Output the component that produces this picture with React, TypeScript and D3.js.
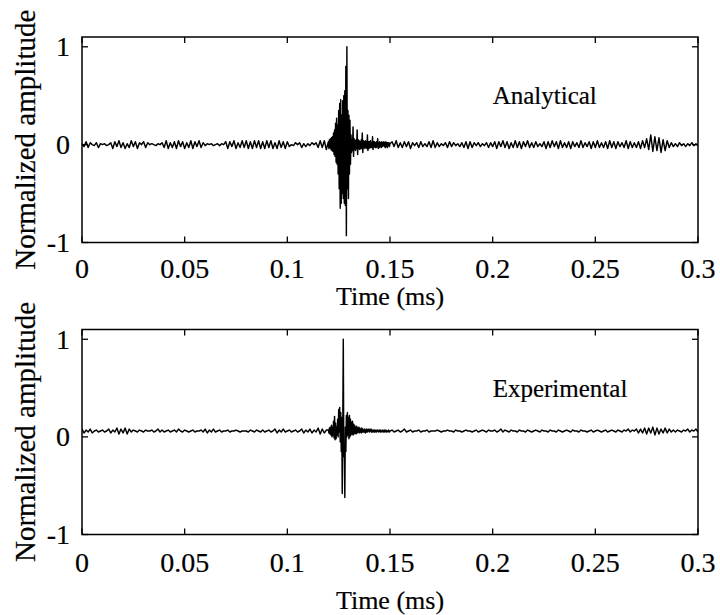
import React from "react";
import * as d3 from "d3";

// ---- Data ----
const xTickValues = [0, 0.05, 0.1, 0.15, 0.2, 0.25, 0.3];
const xTickLabels = ["0", "0.05", "0.1", "0.15", "0.2", "0.25", "0.3"];
const yTickValues = [-1, 0, 1];
const yTickLabels = ["-1", "0", "1"];

const noiseStep = 0.001; // ms
const burstStep = 0.00025; // ms
const preStart = 0;
const burstStart = 0.12;
const postStart = 0.151;

// Analytical signal
const analyticalPre = [
  .01,-.02,.03,-.03,.02,.00,-.01,.02,-.03,.01,
  .00,.01,-.01,.00,.02,-.04,.03,-.02,.04,-.03,
  .02,-.04,.01,-.03,.04,-.02,.03,-.04,.02,.00,
  .03,-.03,.02,.00,.01,.00,-.01,.01,.00,.02,
  -.03,.04,-.04,.02,-.03,.03,-.04,.04,-.02,.03,
  -.04,.02,-.03,.04,-.04,.03,-.02,.04,-.03,.02,
  -.01,.01,.00,.01,-.01,.00,.01,-.01,.01,.00,
  .03,-.04,.03,-.02,.04,-.04,.02,-.03,.04,-.03,
  .04,-.04,.03,-.04,.04,-.03,.04,-.04,.03,-.04,
  .04,-.03,.04,-.04,.02,-.04,.04,-.03,.03,-.04,
  .03,-.02,.00,-.01,.02,.00,.02,-.03,.01,-.02,
  .01,-.01,.02,.00,.02,-.03,.04,-.03,.04,-.05,
];
const analyticalBurst = [
  .03,-.04,.05,-.03,.06,-.05,.07,-.06,.08,-.07,
  .12,-.1,.15,-.12,.22,-.18,.27,-.2,.2,-.3,
  .35,-.45,.42,-.65,.46,-.6,.3,-.5,.45,-.55,
  .5,-.6,.55,-.62,.8,-.93,1.0,-.45,.35,-.55,
  .3,-.3,.25,-.2,.1,-.08,.05,-.06,.18,-.12,
  .06,-.05,.04,-.06,.05,-.04,.15,-.1,.05,-.04,
  .04,-.05,.03,-.04,.05,-.04,.12,-.08,.04,-.03,
  .03,-.04,.04,-.03,.03,-.04,.1,-.06,.03,-.04,
  .03,-.03,.04,-.03,.02,-.03,.08,-.05,.03,-.02,
  .03,-.03,.02,-.03,.03,-.02,.06,-.04,.02,-.03,
  .03,-.02,.02,-.03,.03,-.02,.02,-.01,.03,-.02,
  .02,-.03,.03,-.02,.02,-.03,.02,-.01,.02,-.02,.01,
];
const analyticalPost = [
  .03,-.02,.04,-.03,.02,-.03,.03,-.02,.03,-.04,
  .02,-.01,.02,-.03,.03,-.02,.01,-.02,.03,-.03,
  .04,-.03,.02,-.02,.01,-.01,.02,-.03,.03,-.02,
  .02,-.01,.01,-.02,.02,-.03,.03,-.04,.03,-.03,
  .02,-.01,.02,-.02,.01,-.01,.02,-.03,.02,-.02,
  .03,-.04,.03,-.02,.04,-.03,.03,-.04,.02,-.03,
  .04,-.03,.03,-.04,.03,-.02,.04,-.03,.02,-.03,
  .03,-.02,.01,-.02,.03,-.04,.03,-.03,.04,-.02,
  .03,-.04,.04,-.03,.02,-.03,.03,-.04,.03,-.02,
  .02,-.03,.04,-.03,.02,-.02,.03,-.04,.03,-.03,
  .04,-.03,.02,-.03,.03,-.04,.04,-.03,.03,-.04,
  .03,-.02,.02,-.03,.04,-.04,.03,-.03,.02,-.03,
  .03,-.04,.04,-.03,.06,-.05,.1,-.07,.08,-.06,
  .07,-.08,.05,-.06,.04,-.03,.02,-.02,.01,-.02,
  .02,-.01,.01,-.02,.01,-.01,.02,-.01,.01,-.01,
];

// Experimental signal
const experimentalPre = [
  .08,.04,.07,.05,.08,.04,.06,.07,.05,.06,
  .07,.05,.06,.08,.04,.07,.05,.09,.03,.08,
  .04,.09,.03,.08,.05,.07,.06,.05,.07,.06,
  .05,.07,.06,.06,.07,.05,.06,.08,.05,.07,
  .05,.06,.07,.05,.06,.07,.05,.08,.06,.05,
  .07,.06,.05,.06,.07,.05,.06,.06,.07,.05,
  .08,.04,.07,.05,.08,.05,.06,.07,.05,.06,
  .06,.07,.05,.06,.06,.07,.06,.05,.06,.06,
  .06,.05,.07,.06,.05,.07,.06,.05,.07,.05,
  .06,.07,.05,.06,.08,.04,.07,.05,.08,.05,
  .06,.07,.05,.06,.07,.05,.06,.08,.04,.07,
  .05,.08,.04,.07,.05,.09,.03,.08,.04,.07,
];
const experimentalBurst = [
  .07,.04,.09,.03,.1,.02,.12,.0,.1,.02,
  .16,-.01,.21,-.03,.14,-.02,.1,.02,.18,.0,
  .28,.05,.3,-.05,.25,-.15,.2,-.58,.1,1.0,
  -.2,-.1,-.62,.1,-.15,.22,.0,.25,.02,.2,
  -.02,.22,.0,.18,.02,.15,.03,.16,.02,.13,
  .03,.12,.04,.1,.03,.11,.04,.09,.05,.1,
  .04,.09,.05,.08,.04,.09,.05,.08,.05,.07,
  .05,.08,.04,.07,.05,.08,.05,.07,.06,.08,
  .05,.07,.06,.08,.05,.07,.05,.06,.07,.05,
  .07,.05,.06,.07,.05,.06,.07,.06,.05,.07,
  .06,.05,.07,.06,.05,.06,.07,.05,.06,.07,
  .05,.06,.07,.05,.06,.06,.05,.07,.06,.05,.06,
];
const experimentalPost = [
  .07,.05,.06,.07,.05,.06,.08,.05,.06,.07,
  .05,.06,.06,.07,.05,.06,.06,.07,.05,.06,
  .06,.06,.07,.06,.05,.06,.06,.07,.06,.06,
  .05,.07,.06,.06,.05,.06,.07,.06,.06,.05,
  .06,.07,.05,.06,.07,.06,.05,.07,.06,.06,
  .07,.05,.06,.08,.05,.07,.06,.05,.07,.06,
  .06,.05,.07,.06,.06,.05,.07,.06,.05,.06,
  .07,.06,.05,.07,.06,.06,.05,.07,.06,.06,
  .05,.07,.06,.05,.06,.07,.06,.05,.07,.06,
  .06,.05,.07,.06,.06,.05,.06,.07,.05,.06,
  .07,.06,.05,.06,.07,.05,.06,.07,.06,.05,
  .07,.06,.05,.07,.06,.08,.05,.07,.06,.08,
  .04,.08,.04,.09,.03,.09,.04,.1,.02,.09,
  .03,.08,.04,.09,.04,.08,.05,.07,.05,.07,
  .06,.05,.07,.06,.08,.05,.07,.06,.08,.05,
];

type Pt = [number, number];

function buildSeries(pre: number[], burst: number[], post: number[]): Pt[] {
  const out: Pt[] = [];
  pre.forEach((v, i) => out.push([preStart + i * noiseStep, v]));
  burst.forEach((v, i) => out.push([burstStart + i * burstStep, v]));
  post.forEach((v, i) => out.push([postStart + i * noiseStep, v]));
  return out;
}

const panels = [
  { key: "a", label: "Analytical", data: buildSeries(analyticalPre, analyticalBurst, analyticalPost), top: 37, bottom: 242.5, tickBase: 278, titleBase: 305 },
  { key: "e", label: "Experimental", data: buildSeries(experimentalPre, experimentalBurst, experimentalPost), top: 329.5, bottom: 534.5, tickBase: 572, titleBase: 609 },
];

const FONT = "'Liberation Serif', 'Times New Roman', serif";
const LEFT = 82;
const RIGHT = 698;
const TICK = 6;
const textStyle = { fontFamily: FONT, stroke: "#000", strokeWidth: 0.2 } as const;

function Panel({ p }: { p: (typeof panels)[number] }) {
  const x = d3.scaleLinear().domain([0, 0.3]).range([LEFT, RIGHT]);
  const y = d3.scaleLinear().domain([-1, 1.1]).range([p.bottom, p.top]);
  const line = d3.line<Pt>().x((d) => x(d[0])).y((d) => y(d[1]));
  const clipId = `clip-${p.key}`;
  const midY = (p.top + p.bottom) / 2;
  return (
    <g>
      <clipPath id={clipId}>
        <rect x={LEFT} y={p.top} width={RIGHT - LEFT} height={p.bottom - p.top} />
      </clipPath>
      <path d={line(p.data) || ""} fill="none" stroke="#000" strokeWidth={1.45} strokeLinejoin="round" clipPath={`url(#${clipId})`} />
      <rect x={LEFT} y={p.top} width={RIGHT - LEFT} height={p.bottom - p.top} fill="none" stroke="#000" strokeWidth={1.5} />
      {xTickValues.map((v, i) => (
        <g key={`x${i}`}>
          <line x1={x(v)} x2={x(v)} y1={p.bottom} y2={p.bottom - TICK} stroke="#000" strokeWidth={1.3} />
          <line x1={x(v)} x2={x(v)} y1={p.top} y2={p.top + TICK} stroke="#000" strokeWidth={1.3} />
          <text x={x(v)} y={p.tickBase} textAnchor="middle" fontSize={28} style={textStyle}>{xTickLabels[i]}</text>
        </g>
      ))}
      {yTickValues.map((v, i) => (
        <g key={`y${i}`}>
          <line x1={LEFT} x2={LEFT + TICK} y1={y(v)} y2={y(v)} stroke="#000" strokeWidth={1.3} />
          <line x1={RIGHT} x2={RIGHT - TICK} y1={y(v)} y2={y(v)} stroke="#000" strokeWidth={1.3} />
          <text x={70} y={y(v) + 9.5} textAnchor="end" fontSize={28} style={textStyle}>{yTickLabels[i]}</text>
        </g>
      ))}
      <text x={(LEFT + RIGHT) / 2} y={p.titleBase} textAnchor="middle" fontSize={26} style={textStyle}>Time (ms)</text>
      <text transform={`translate(35,${midY}) rotate(-90)`} textAnchor="middle" fontSize={29} style={textStyle}>Normalized amplitude</text>
      <text x={x(0.2)} y={p.top + 67} fontSize={25} style={textStyle}>{p.label}</text>
    </g>
  );
}

export default function App() {
  return (
    <svg width={720} height={615} style={{ position: "absolute", left: 0, top: 0, background: "#fff" }}>
      <rect x={0} y={0} width={720} height={615} fill="#fff" />
      {panels.map((p) => (
        <Panel key={p.key} p={p} />
      ))}
    </svg>
  );
}
